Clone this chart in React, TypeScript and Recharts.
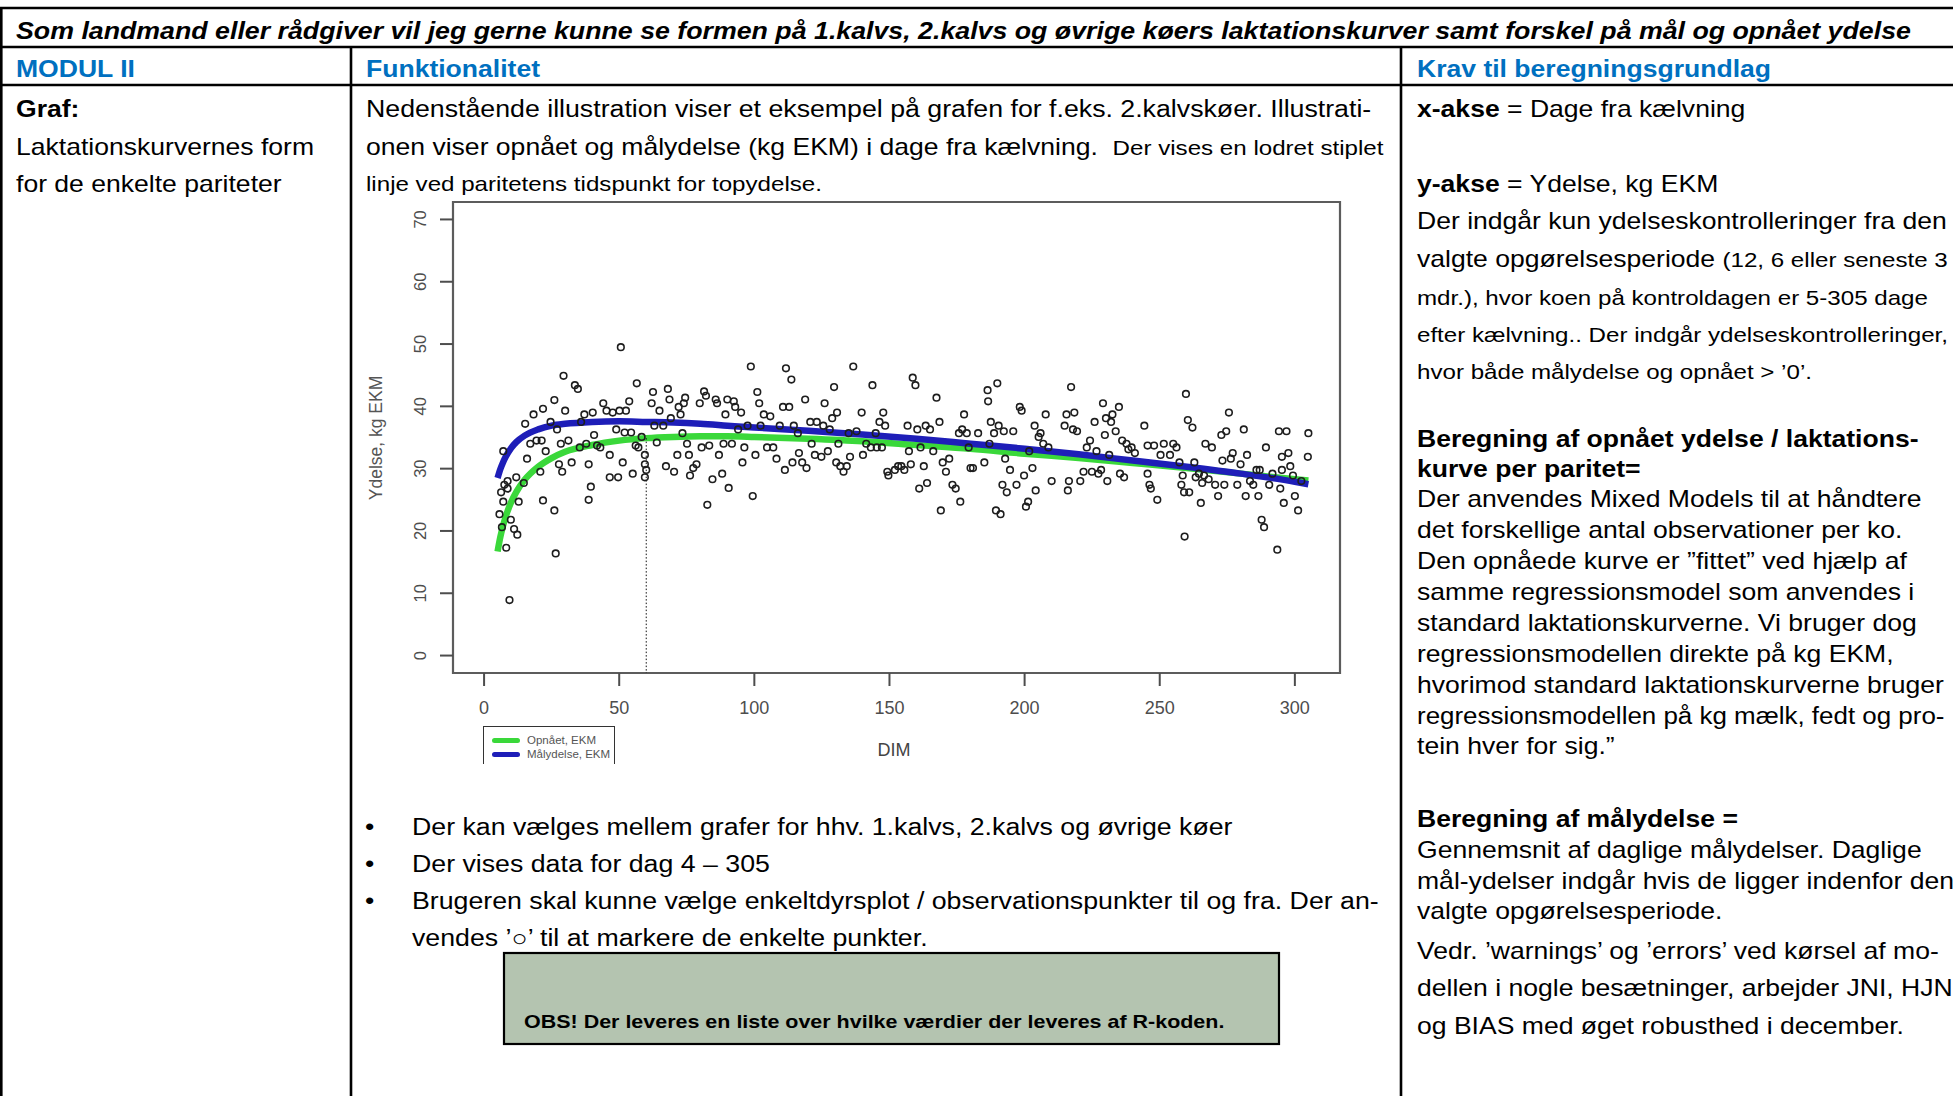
import React from "react";
import { ComposedChart, Scatter, Line, XAxis, YAxis, ReferenceArea, ReferenceLine } from "recharts";

// --- chart data ---
const xTicks = [0, 50, 100, 150, 200, 250, 300];
const yTicks = [0, 10, 20, 30, 40, 50, 60, 70];
const xDomain: [number, number] = [-11.5, 316.7];
const yDomain: [number, number] = [-2.8, 72.8];

const curveDim = [5, 6, 7, 8, 10, 12, 15, 20, 25, 30, 40, 50, 60, 70, 80, 90, 100, 120, 140, 160, 180, 200, 220, 240, 260, 280, 300, 305];
const opnaaetEkm = [16.7, 19.0, 20.8, 22.3, 24.6, 26.3, 28.2, 30.3, 31.7, 32.7, 33.8, 34.5, 34.9, 35.1, 35.2, 35.2, 35.1, 34.8, 34.4, 33.8, 33.2, 32.4, 31.7, 30.9, 30.1, 29.2, 28.3, 28.1];
const maalydelseEkm = [28.5, 29.9, 31.0, 31.9, 33.3, 34.3, 35.3, 36.3, 36.9, 37.2, 37.5, 37.6, 37.5, 37.4, 37.2, 36.9, 36.6, 36.1, 35.5, 34.8, 34.0, 33.2, 32.3, 31.3, 30.3, 29.2, 27.9, 27.5];

// topydelse for pariteten (dotted vertical line)
const peakDim = 60;
const peakOpnaaet = 34.9;

// observations [DIM, kg EKM]
const observations: [number, number][] = [
  [6.3, 26.2], [7.5, 27.4], [8.7, 26.8], [7.1, 24.7], [5.7, 22.7], [6.6, 20.6], [8.2, 17.3], [9.9, 21.8], [11.1, 20.3], [12.3, 19.4],
  [9.4, 8.9], [8.7, 28], [11.9, 28.6], [12.8, 24.7], [7.1, 32.8], [14.7, 27.7], [15.9, 31.6], [15.2, 37.2], [18.3, 38.7], [17.1, 34],
  [19.4, 34.5], [21.8, 39.6], [21.3, 34.5], [20.8, 29.5], [21.8, 24.9], [22.8, 32.8], [26, 41], [24.6, 37.5], [26, 23.3], [26.5, 16.4],
  [27, 36.3], [27.7, 30.7], [28.4, 34], [29.4, 44.9], [30, 39.3], [28.9, 29.5], [31.2, 34.5], [32.4, 31], [33.6, 43.4], [34.7, 42.8],
  [35.9, 37.5], [35.4, 33.4], [37.1, 38.7], [37.8, 34], [38.7, 30.7], [38.7, 25], [39.5, 27.1], [40.2, 39], [40.7, 35.4], [41.8, 33.7],
  [43, 33.4], [44.1, 40.5], [45.3, 39.3], [46.5, 32.2], [46.5, 28.6], [47.6, 39], [48.9, 36.3], [50.1, 39.3], [49.6, 28.6], [50.6, 49.5],
  [51.3, 31], [52, 35.8], [52.5, 39.3], [53.7, 40.8], [54.4, 35.8], [55, 29.2], [56.1, 33.7], [56.5, 43.7], [57.1, 33.4], [58.3, 35.1],
  [59.5, 32.2], [59.5, 30.7], [59.5, 28.6], [60, 29.8], [62, 40.5], [62.5, 42.3], [63, 36.9], [63.9, 34.2], [64.9, 39.3], [66.3, 36.9],
  [67.3, 30.4], [68, 42.8], [68.6, 41.1], [69.1, 38.1], [70.3, 29.5], [71.5, 32.2], [72, 39.9], [72.7, 38.7], [73.9, 40.5], [74.4, 41.4],
  [73.4, 35.7], [75.1, 34], [75.8, 32.2], [76.2, 28.9], [77.4, 30.1], [78.6, 30.7], [79.8, 40.5], [80.5, 33.4], [81.4, 42.4], [82.1, 41.7],
  [82.6, 24.2], [83.3, 33.7], [84.5, 28.3], [85.7, 41.1], [86.2, 40.5], [86.9, 32.2], [88.1, 29.2], [88.6, 34], [89.3, 38.7], [90, 41.1],
  [90.5, 26.9], [91.7, 34], [92.4, 40.8], [92.9, 39.9], [94, 36.3], [95.1, 39], [95.6, 31], [96.3, 33.4], [97.5, 36.9], [98.7, 46.4],
  [99.4, 25.6], [100.4, 32.2], [101.1, 42.3], [101.8, 40.5], [102.3, 36.9], [103.5, 38.7], [104.7, 33.4], [105.9, 38.4], [107, 33.4], [108.2, 31.6],
  [109.4, 36.9], [110.6, 39.9], [111.3, 29.8], [111.7, 46.1], [112.9, 39.9], [113.7, 44.3], [114.1, 31], [114.6, 36.9], [116.1, 35.7], [116.5, 32.5],
  [117.7, 31], [118.8, 41.1], [119.3, 30.1], [120.7, 37.5], [121.2, 34], [122.4, 32.2], [123.1, 37.5], [124.8, 31.9], [125.5, 36.9], [126, 40.5],
  [127.2, 32.8], [127.9, 36.3], [128.8, 38.1], [129.5, 43.1], [130.3, 31], [130.6, 39], [131.1, 34], [131.8, 30.4], [133, 29.5], [134.2, 30.4],
  [134.9, 35.7], [135.4, 31.9], [136.6, 46.4], [137.8, 36], [139.7, 39], [140.2, 32.2], [141.4, 34], [143.1, 33.4], [143.7, 43.4], [144.9, 35.7],
  [145.3, 33.4], [146.3, 37.5], [147.2, 33.4], [147.7, 39], [148.4, 36.9], [149.2, 29.5], [149.6, 28.9], [152, 29.8], [153.2, 30.4], [154.4, 30.4],
  [155.5, 29.8], [156.7, 36.9], [157.2, 32.8], [157.9, 30.7], [158.6, 44.6], [159.6, 43.4], [160.3, 36.3], [161, 26.8], [161.5, 33.4], [162.7, 30.4],
  [163.4, 36.9], [163.9, 27.7], [165, 36.3], [166.2, 32.8], [167.4, 41.4], [168.5, 37.5], [169, 23.3], [169.7, 31], [170.9, 29.5], [172.1, 31.6],
  [173.3, 27.4], [174.5, 26.8], [175.7, 35.7], [176.2, 24.7], [176.9, 36.3], [177.6, 38.7], [178.6, 35.7], [179.3, 33.4], [180, 30.1], [180.9, 30.1],
  [182.8, 35.7], [185.1, 31], [186.3, 42.6], [186.5, 40.8], [187, 34], [187.5, 37.5], [188.7, 35.7], [189.4, 23.3], [189.9, 43.7], [190.4, 36.9],
  [191.1, 22.7], [191.8, 27.4], [192.3, 36], [192.8, 31.6], [193.4, 26.2], [194.6, 29.8], [195.8, 36], [197, 27.4], [198.2, 39.9], [198.9, 39.3],
  [199.8, 28.9], [200.5, 23.9], [201.3, 24.7], [201.7, 32.8], [202.9, 30.1], [203.7, 36.9], [204.1, 26.5], [205.2, 35.1], [205.9, 35.7], [206.9, 34],
  [207.8, 38.7], [208.8, 33.4], [210, 28], [214.8, 36.9], [215.5, 38.7], [216, 26.5], [216.4, 28], [217.2, 43.1], [217.9, 36.3], [218.4, 39],
  [219.4, 36], [220.6, 28], [221.8, 29.5], [223, 33.4], [224.2, 34.5], [224.9, 29.5], [225.9, 37.5], [226.6, 32.8], [227.3, 29.2], [228.3, 29.8],
  [229, 40.5], [229.7, 35.4], [230.1, 38.1], [230.6, 28], [231.3, 32.2], [232, 37.5], [232.5, 38.7], [233.7, 36], [234.9, 39.9], [235.3, 29.2],
  [236.1, 34.5], [236.8, 28.6], [237.7, 34], [238.4, 33.1], [239.6, 33.4], [240.8, 32.5], [244.3, 36.9], [245.5, 33.7], [245.5, 29.2], [246.2, 27.4],
  [246.7, 26.8], [247.9, 33.7], [249.1, 25], [250.3, 32.2], [251.5, 34], [253.8, 32.2], [255, 34], [256.2, 33.4], [257.3, 31], [258, 27.4],
  [258.5, 28.9], [259, 26.2], [259.2, 19.1], [259.7, 42], [260.4, 37.8], [260.9, 26.2], [262.1, 36.6], [262.8, 31], [263.3, 28.6], [264.5, 29.2],
  [265.2, 24.5], [265.7, 27.7], [266.4, 28.9], [266.9, 34], [268.1, 28.3], [269.3, 33.4], [270.5, 27.4], [271.6, 25.6], [272.8, 35.4], [273.2, 31.3],
  [273.9, 27.4], [274.6, 36], [275.6, 39], [276.3, 31.6], [277, 32.5], [278.7, 27.4], [279.9, 30.7], [281.1, 36.3], [281.8, 25.6], [282.3, 32.2],
  [283.4, 28], [284.6, 27.4], [285.8, 29.8], [286.5, 25.6], [287, 29.8], [287.7, 21.8], [288.6, 20.6], [289.3, 33.4], [290.5, 27.4], [291.7, 29.2],
  [293.5, 17], [294.1, 36], [294.6, 26.8], [295.2, 31.9], [295.2, 29.8], [295.9, 24.5], [296.9, 36], [297.6, 32.5], [298.3, 30.4], [299.3, 28.9],
  [300, 25.6], [301.2, 23.3], [302.4, 28], [304.8, 31.9], [305, 35.7],
];

const FONT = "'Liberation Sans', Arial, Helvetica, sans-serif";
const GREEN = "#3ad83a";
const BLUE = "#1e1eb8";
const AXIS_GREY = "#4d4d4d";
const HEAD_BLUE = "#0070C0";
const SX = 1.155; // the document is stretched horizontally

const points = observations.map(([x, y]) => ({ x, y }));
const curves = curveDim.map((x, i) => ({ x, opnaaet: opnaaetEkm[i], maal: maalydelseEkm[i] }));

function XTick({ x, y, payload }: any) {
  return (
    <text x={x} y={y + 26} textAnchor="middle" fontSize={18} fill={AXIS_GREY} fontFamily={FONT}>
      {payload.value}
    </text>
  );
}

function YTick({ x, y, payload }: any) {
  return (
    <text transform={`translate(${x - 12} ${y}) rotate(-90)`} textAnchor="middle" fontSize={16.5} fill={AXIS_GREY} fontFamily={FONT}>
      {payload.value}
    </text>
  );
}

const Circle = (p: any) => <circle cx={p.cx} cy={p.cy} r={3.3} fill="none" stroke="#1e1e1e" strokeWidth={1.6} />;

function LactationChart() {
  return (
    <div style={{ position: "absolute", left: 360, top: 192, width: 1000, height: 572, overflow: "hidden" }}>
      <ComposedChart width={1000} height={572} margin={{ top: 10, right: 20, bottom: 31, left: 0 }}>
        <XAxis
          type="number"
          dataKey="x"
          domain={xDomain}
          ticks={xTicks}
          interval={0}
          allowDataOverflow
          axisLine={false}
          tickLine={{ stroke: AXIS_GREY, strokeWidth: 2 }}
          tickSize={13}
          tick={<XTick />}
          height={60}
        />
        <YAxis
          type="number"
          dataKey="y"
          domain={yDomain}
          ticks={yTicks}
          interval={0}
          allowDataOverflow
          axisLine={false}
          tickLine={{ stroke: AXIS_GREY, strokeWidth: 2 }}
          tickSize={13}
          tick={<YTick />}
          width={93}
        />
        <ReferenceArea x1={xDomain[0]} x2={xDomain[1]} y1={yDomain[0]} y2={yDomain[1]} fill="none" stroke="#5c5c5c" strokeWidth={2.2} fillOpacity={0} />
        <Scatter data={points} shape={Circle} isAnimationActive={false} />
        <Line data={curves} dataKey="opnaaet" type="monotone" stroke={GREEN} strokeWidth={6.5} dot={false} isAnimationActive={false} />
        <Line data={curves} dataKey="maal" type="monotone" stroke={BLUE} strokeWidth={6.5} dot={false} isAnimationActive={false} />
        <ReferenceLine
          segment={[{ x: peakDim, y: peakOpnaaet }, { x: peakDim, y: yDomain[0] }]}
          stroke="#111"
          strokeWidth={1}
          strokeDasharray="1.5 2"
        />
      </ComposedChart>

      {/* axis titles */}
      <div style={{ position: "absolute", left: 16 - 100, top: 246 - 12, width: 200, height: 24, textAlign: "center", transform: "rotate(-90deg)", fontFamily: FONT, fontSize: 17.5, lineHeight: "24px", color: "#555" }}>
        Ydelse, kg EKM
      </div>
      <div style={{ position: "absolute", left: 534 - 50, top: 558 - 12, width: 100, height: 24, textAlign: "center", fontFamily: FONT, fontSize: 18, lineHeight: "24px", color: "#444" }}>
        DIM
      </div>

      {/* legend (cut off at the bottom, as in the picture) */}
      <div style={{ position: "absolute", left: 123, top: 534, width: 130, height: 60, border: "1.6px solid #333", fontFamily: FONT, fontSize: 11.5, color: "#555" }}>
        {[
          { c: GREEN, t: "Opnået, EKM" },
          { c: BLUE, t: "Målydelse, EKM" },
        ].map((e, i) => (
          <div key={i} style={{ position: "absolute", left: 8, top: 6 + i * 14, height: 14, display: "flex", alignItems: "center" }}>
            <span style={{ display: "inline-block", width: 28, height: 5, borderRadius: 3, background: e.c, marginRight: 7 }} />
            <span>{e.t}</span>
          </div>
        ))}
      </div>
    </div>
  );
}

function T({ x, y, size = 23, bold = false, italic = false, color = "#000", sx = SX, children }: any) {
  return (
    <text
      transform={`translate(${x} ${y}) scale(${sx} 1)`}
      fontSize={size}
      fontWeight={bold ? 700 : 400}
      fontStyle={italic ? "italic" : "normal"}
      fill={color}
      style={{ whiteSpace: "pre" }}
    >
      {children}
    </text>
  );
}

const SMALL = 20.9;
const OBS = 18.6;

export default function App() {
  const col3 = 1417;
  return (
    <div style={{ position: "absolute", left: 0, top: 0, width: 1953, height: 1096, overflow: "hidden", background: "#fff" }}>
      <svg width={1953} height={1096} style={{ position: "absolute", left: 0, top: 0 }} fontFamily={FONT}>
        {/* table rules */}
        <g stroke="#000" strokeWidth={2.6}>
          <line x1={0} y1={8} x2={1953} y2={8} />
          <line x1={0} y1={47} x2={1953} y2={47} />
          <line x1={0} y1={85} x2={1953} y2={85} />
          <line x1={1.3} y1={7} x2={1.3} y2={1096} />
          <line x1={351} y1={47} x2={351} y2={1096} />
          <line x1={1401} y1={47} x2={1401} y2={1096} />
        </g>

        <T x={16} y={39} bold italic sx={1.163}>
          Som landmand eller rådgiver vil jeg gerne kunne se formen på 1.kalvs, 2.kalvs og øvrige køers laktationskurver samt forskel på mål og opnået ydelse
        </T>

        <T x={16} y={77} bold color={HEAD_BLUE}>MODUL II</T>
        <T x={366} y={77} bold color={HEAD_BLUE}>Funktionalitet</T>
        <T x={col3} y={77} bold color={HEAD_BLUE}>Krav til beregningsgrundlag</T>

        {/* column 1 */}
        <T x={16} y={117} bold>Graf:</T>
        <T x={16} y={155}>Laktationskurvernes form</T>
        <T x={16} y={192}>for de enkelte pariteter</T>

        {/* column 2 */}
        <T x={366} y={117} sx={1.162}>Nedenstående illustration viser et eksempel på grafen for f.eks. 2.kalvskøer. Illustrati-</T>
        <T x={366} y={155}>
          {"onen viser opnået og målydelse (kg EKM) i dage fra kælvning.  "}
          <tspan fontSize={SMALL}>Der vises en lodret stiplet</tspan>
        </T>
        <T x={366} y={191} size={SMALL}>linje ved paritetens tidspunkt for topydelse.</T>

        {[
          { y: 835, t: "Der kan vælges mellem grafer for hhv. 1.kalvs, 2.kalvs og øvrige køer", b: true },
          { y: 872, t: "Der vises data for dag 4 – 305", b: true },
          { y: 909, t: "Brugeren skal kunne vælge enkeltdyrsplot / observationspunkter til og fra. Der an-", b: true },
          { y: 946, t: "vendes ’○’ til at markere de enkelte punkter.", b: false },
        ].map((r, i) => (
          <g key={i}>
            {r.b && <T x={365} y={r.y}>•</T>}
            <T x={412} y={r.y} sx={1.162}>{r.t}</T>
          </g>
        ))}

        <rect x={504} y={953} width={775} height={91} fill="#b4c4b0" stroke="#000" strokeWidth={2.2} />
        <T x={524} y={1028} size={OBS} bold>OBS! Der leveres en liste over hvilke værdier der leveres af R-koden.</T>

        {/* column 3 */}
        <T x={col3} y={117}><tspan fontWeight={700}>x-akse</tspan>{" = Dage fra kælvning"}</T>
        <T x={col3} y={192}><tspan fontWeight={700}>y-akse</tspan>{" = Ydelse, kg EKM"}</T>
        <T x={col3} y={229}>Der indgår kun ydelseskontrolleringer fra den</T>
        <T x={col3} y={267}>
          {"valgte opgørelsesperiode "}
          <tspan fontSize={SMALL}>(12, 6 eller seneste 3</tspan>
        </T>
        <T x={col3} y={305} size={SMALL}>mdr.), hvor koen på kontroldagen er 5-305 dage</T>
        <T x={col3} y={342} size={SMALL}>efter kælvning.. Der indgår ydelseskontrolleringer,</T>
        <T x={col3} y={379} size={SMALL}>hvor både målydelse og opnået &gt; ’0’.</T>

        <T x={col3} y={447} bold>Beregning af opnået ydelse / laktations-</T>
        <T x={col3} y={477} bold>kurve per paritet=</T>
        <T x={col3} y={507}>Der anvendes Mixed Models til at håndtere</T>
        <T x={col3} y={538}>det forskellige antal observationer per ko.</T>
        <T x={col3} y={569}>Den opnåede kurve er ”fittet” ved hjælp af</T>
        <T x={col3} y={600}>samme regressionsmodel som anvendes i</T>
        <T x={col3} y={631}>standard laktationskurverne. Vi bruger dog</T>
        <T x={col3} y={662}>regressionsmodellen direkte på kg EKM,</T>
        <T x={col3} y={693}>hvorimod standard laktationskurverne bruger</T>
        <T x={col3} y={724} sx={1.128}>regressionsmodellen på kg mælk, fedt og pro-</T>
        <T x={col3} y={754}>tein hver for sig.”</T>

        <T x={col3} y={827} bold>Beregning af målydelse =</T>
        <T x={col3} y={858}>Gennemsnit af daglige målydelser. Daglige</T>
        <T x={col3} y={889}>mål-ydelser indgår hvis de ligger indenfor den</T>
        <T x={col3} y={919}>valgte opgørelsesperiode.</T>

        <T x={col3} y={959}>Vedr. ’warnings’ og ’errors’ ved kørsel af mo-</T>
        <T x={col3} y={996}>dellen i nogle besætninger, arbejder JNI, HJN</T>
        <T x={col3} y={1034}>og BIAS med øget robusthed i december.</T>
      </svg>

      <LactationChart />
    </div>
  );
}
